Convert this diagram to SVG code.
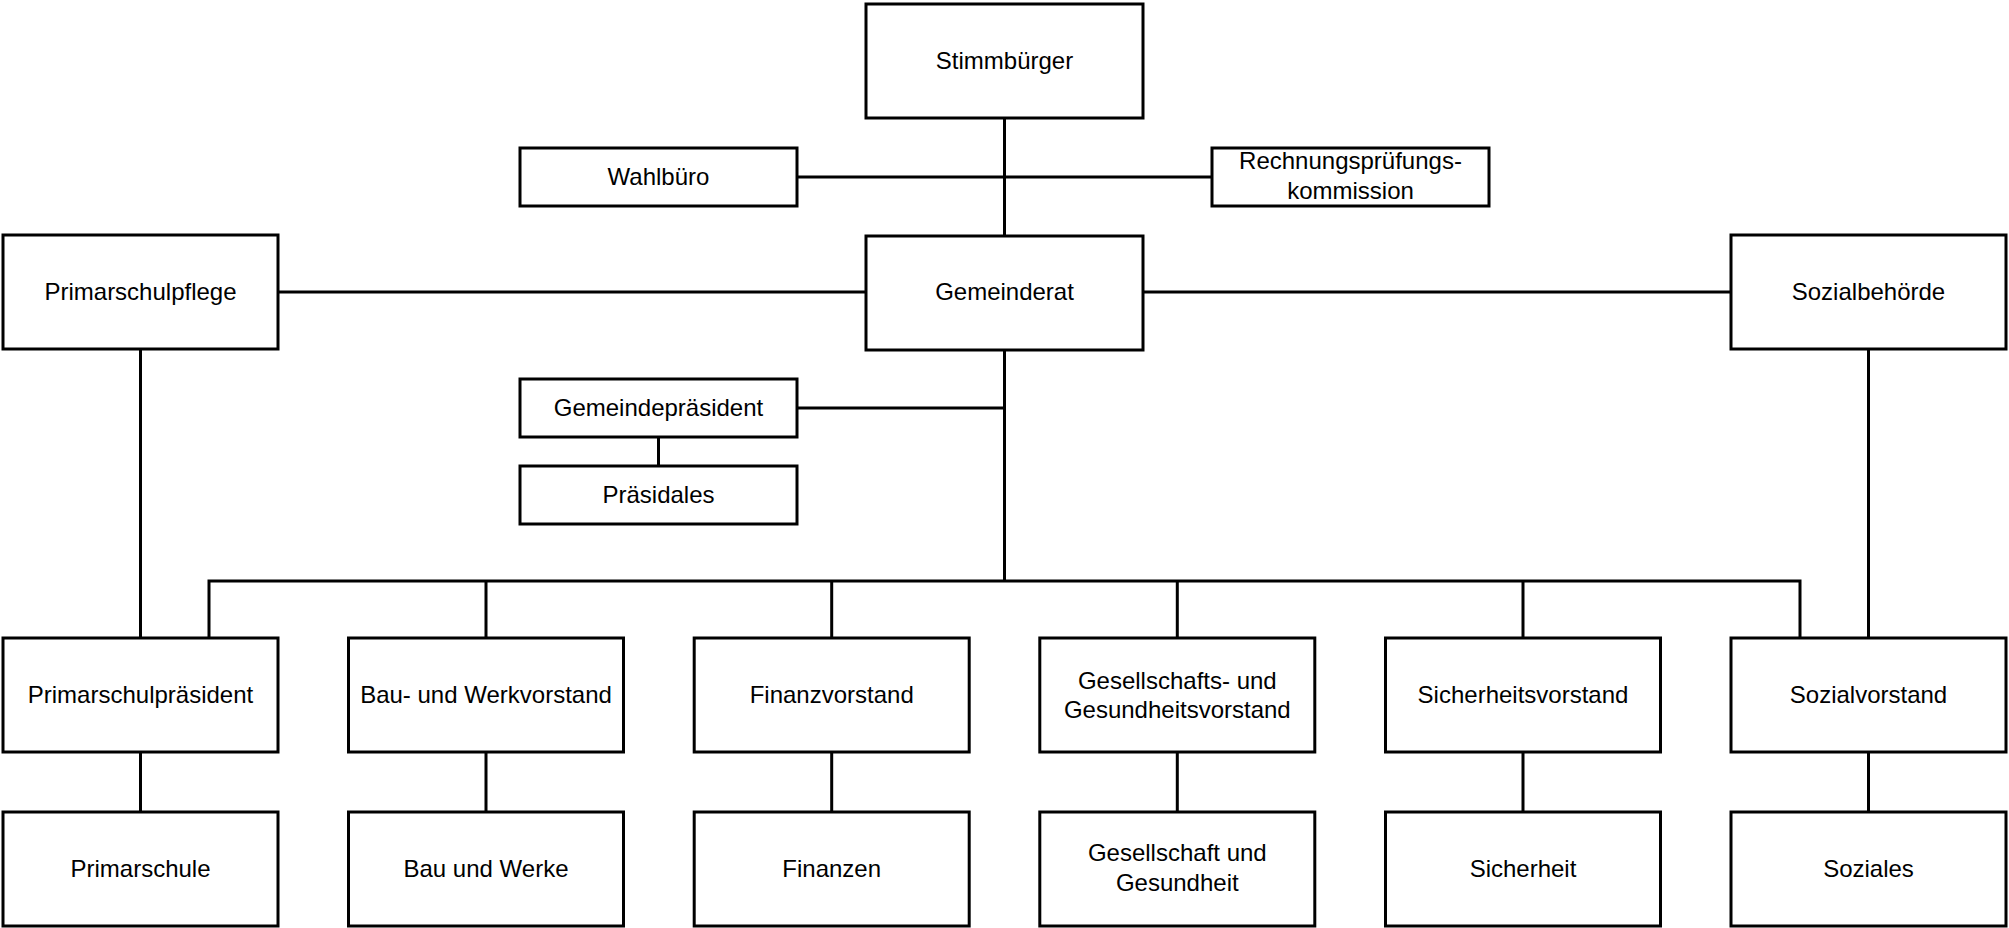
<svg xmlns="http://www.w3.org/2000/svg" width="2009" height="928" viewBox="0 0 2009 928">
<style>
.b{fill:#fff;stroke:#000;stroke-width:3}
.t{font-family:"Liberation Sans",Arial,sans-serif;font-size:24px;fill:#000;text-anchor:middle}
.c{fill:none;stroke:#000;stroke-width:3}
</style>
<rect width="2009" height="928" fill="#fff"/>
<g id="connectors">
<path class="c" d="M1004.5,118 V236"/>
<path class="c" d="M797,177 H1212"/>
<path class="c" d="M278,292 H866"/>
<path class="c" d="M1143,292 H1731"/>
<path class="c" d="M1004.5,350 V581"/>
<path class="c" d="M797,408 H1004.5"/>
<path class="c" d="M658.5,437 V466"/>
<path class="c" d="M140.5,349 V638"/>
<path class="c" d="M1868.5,349 V638"/>
<path class="c" d="M209,638 V581 H1800 V638"/>
<path class="c" d="M486,581 V638 M831.7,581 V638 M1177.3,581 V638 M1523,581 V638"/>
<path class="c" d="M140.5,752 V812 M486,752 V812 M831.7,752 V812 M1177.3,752 V812 M1523,752 V812 M1868.5,752 V812"/>
</g>
<g id="stimmbuerger"><rect class="b" x="866" y="4" width="277" height="114"/><text class="t" x="1004.5" y="69">Stimmbürger</text></g>
<g id="wahlbuero"><rect class="b" x="520" y="148" width="277" height="58"/><text class="t" x="658.5" y="185">Wahlbüro</text></g>
<g id="rpk"><rect class="b" x="1212" y="148" width="277" height="58"/><text class="t" x="1350.5" y="169">Rechnungsprüfungs-</text><text class="t" x="1350.5" y="199">kommission</text></g>
<g id="primarschulpflege"><rect class="b" x="3" y="235" width="275" height="114"/><text class="t" x="140.5" y="300">Primarschulpflege</text></g>
<g id="gemeinderat"><rect class="b" x="866" y="236" width="277" height="114"/><text class="t" x="1004.5" y="300">Gemeinderat</text></g>
<g id="sozialbehoerde"><rect class="b" x="1731" y="235" width="275" height="114"/><text class="t" x="1868.5" y="300">Sozialbehörde</text></g>
<g id="gemeindepraesident"><rect class="b" x="520" y="379" width="277" height="58"/><text class="t" x="658.5" y="416">Gemeindepräsident</text></g>
<g id="praesidales"><rect class="b" x="520" y="466" width="277" height="58"/><text class="t" x="658.5" y="503">Präsidales</text></g>
<g id="primarschulpraesident"><rect class="b" x="3" y="638" width="275" height="114"/><text class="t" x="140.5" y="703">Primarschulpräsident</text></g>
<g id="bauvorstand"><rect class="b" x="348.5" y="638" width="275" height="114"/><text class="t" x="486" y="703">Bau- und Werkvorstand</text></g>
<g id="finanzvorstand"><rect class="b" x="694.2" y="638" width="275" height="114"/><text class="t" x="831.7" y="703">Finanzvorstand</text></g>
<g id="gesvorstand"><rect class="b" x="1039.8" y="638" width="275" height="114"/><text class="t" x="1177.3" y="689">Gesellschafts- und</text><text class="t" x="1177.3" y="718">Gesundheitsvorstand</text></g>
<g id="sicherheitsvorstand"><rect class="b" x="1385.5" y="638" width="275" height="114"/><text class="t" x="1523" y="703">Sicherheitsvorstand</text></g>
<g id="sozialvorstand"><rect class="b" x="1731" y="638" width="275" height="114"/><text class="t" x="1868.5" y="703">Sozialvorstand</text></g>
<g id="primarschule"><rect class="b" x="3" y="812" width="275" height="114"/><text class="t" x="140.5" y="877">Primarschule</text></g>
<g id="bauwerke"><rect class="b" x="348.5" y="812" width="275" height="114"/><text class="t" x="486" y="877">Bau und Werke</text></g>
<g id="finanzen"><rect class="b" x="694.2" y="812" width="275" height="114"/><text class="t" x="831.7" y="877">Finanzen</text></g>
<g id="gesellschaft"><rect class="b" x="1039.8" y="812" width="275" height="114"/><text class="t" x="1177.3" y="861">Gesellschaft und</text><text class="t" x="1177.3" y="891">Gesundheit</text></g>
<g id="sicherheit"><rect class="b" x="1385.5" y="812" width="275" height="114"/><text class="t" x="1523" y="877">Sicherheit</text></g>
<g id="soziales"><rect class="b" x="1731" y="812" width="275" height="114"/><text class="t" x="1868.5" y="877">Soziales</text></g>
</svg>
